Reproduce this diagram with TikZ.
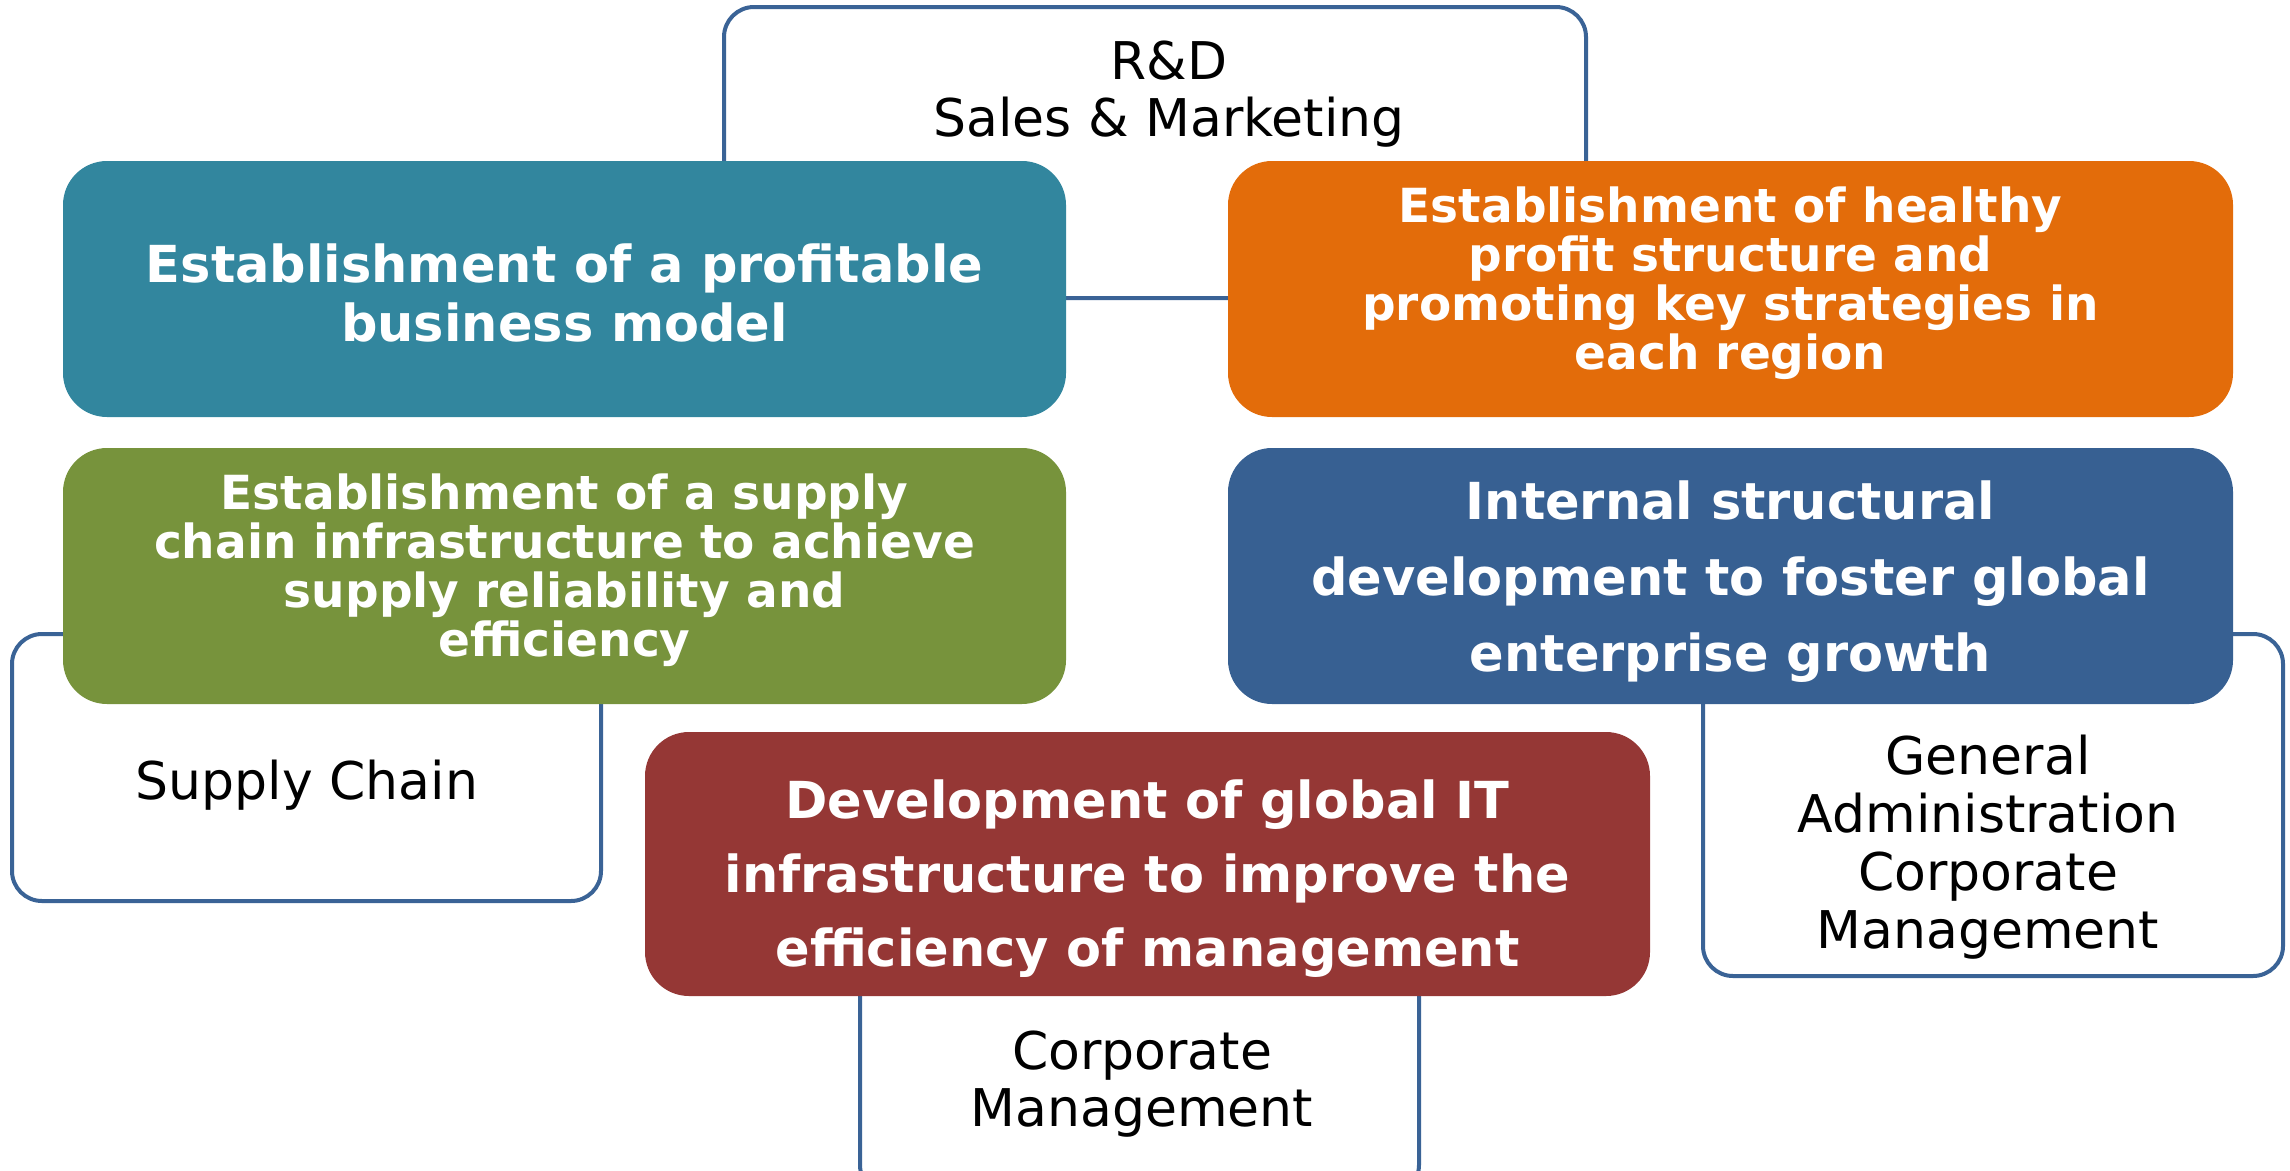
\documentclass[tikz,border=0pt]{standalone}
\usepackage{fontspec}
\setmainfont{DejaVu Sans}
\definecolor{frame}{RGB}{58,99,150}
\definecolor{teal}{RGB}{50,134,158}
\definecolor{orangegoal}{RGB}{227,108,10}
\definecolor{greengoal}{RGB}{119,147,60}
\definecolor{bluegoal}{RGB}{55,96,146}
\definecolor{redgoal}{RGB}{149,55,53}
\tikzset{
  unit/.style={draw=frame, line width=4pt, fill=white, rounded corners=30pt, inner sep=0pt},
  goal/.style={rounded corners=44pt, text=white, align=center, inner sep=0pt},
  dept/.style={align=center, text=black, inner sep=0pt, font=\fontsize{52}{57}\selectfont},
}
\begin{document}
\begin{tikzpicture}[x=1pt,y=-1pt]
\useasboundingbox (0,0) rectangle (2290,1170);

% department frames (behind the goals)
\node[unit, minimum width=862pt, minimum height=291pt] (rd) at (1155,152.5) {};
\node[unit, minimum width=589pt, minimum height=267pt] (sc) at (306.5,767.5) {};
\node[unit, minimum width=580pt, minimum height=342pt] (ga) at (1993,805) {};
\node[unit, minimum width=559pt, minimum height=295pt] (cm) at (1139.5,1047.5) {};

% department names
\node[dept] (rdtext) at (1169,94) {R\&D\\Sales \& Marketing};
\node[dept] (sctext) at (307,785) {Supply Chain};
\node[dept, font=\fontsize{52}{58}\selectfont] (gatext) at (1988,847) {General\\Administration\\Corporate\\Management};
\node[dept] (cmtext) at (1142,1084) {Corporate\\Management};

% strategic goals
\node[goal, fill=teal, minimum width=1003pt, minimum height=256pt] (g1) at (564.5,289) {};
\node[goal, font=\bfseries\fontsize{51}{59}\selectfont] (g1text) at (564.5,293)
  {Establishment of a profitable\\business model};
\node[goal, fill=orangegoal, minimum width=1005pt, minimum height=256pt] (g2) at (1730.5,289) {};
\node[goal, font=\bfseries\fontsize{47}{49}\selectfont] (g2text) at (1730.5,283)
  {Establishment of healthy\\profit structure and\\promoting key strategies in\\each region};
\node[goal, fill=greengoal, minimum width=1003pt, minimum height=256pt] (g3) at (564.5,576) {};
\node[goal, font=\bfseries\fontsize{47}{49}\selectfont] (g3text) at (564.5,570)
  {Establishment of a supply\\chain infrastructure to achieve\\supply reliability and\\efficiency};
\node[goal, fill=bluegoal, minimum width=1005pt, minimum height=256pt] (g4) at (1730.5,576) {};
\node[goal, font=\bfseries\fontsize{51}{76}\selectfont] (g4text) at (1730.5,582)
  {Internal structural\\development to foster global\\enterprise growth};
\node[goal, fill=redgoal, minimum width=1005pt, minimum height=264pt] (g5) at (1147.5,864) {};
\node[goal, font=\bfseries\fontsize{51}{74}\selectfont] (g5text) at (1147.5,879)
  {Development of global IT\\infrastructure to improve the\\efficiency of management};
\end{tikzpicture}
\end{document}
